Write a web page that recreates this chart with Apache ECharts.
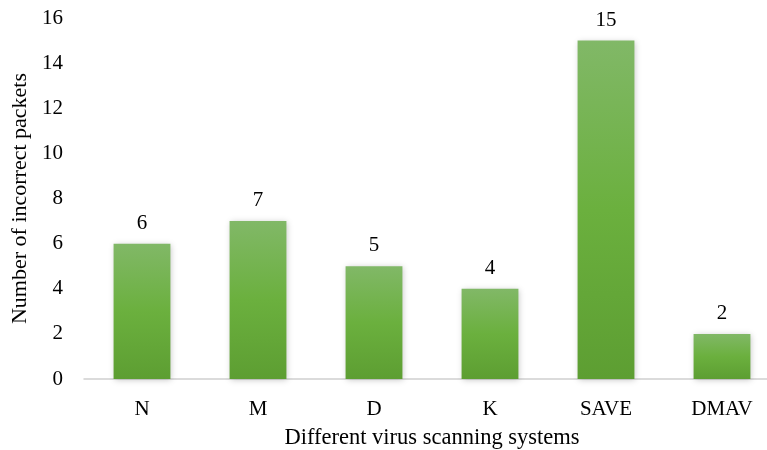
<!DOCTYPE html>
<html>
<head>
<meta charset="utf-8">
<script src="https://cdn.jsdelivr.net/npm/echarts@6/dist/echarts.min.js"></script>
<style>
  html, body { margin: 0; padding: 0; background: #fff; }
  #chart { width: 767px; height: 450px; }
</style>
</head>
<body>
<div id="chart"></div>
<script>
const categories = ['N', 'M', 'D', 'K', 'SAVE', 'DMAV'];
const incorrectPackets = [6, 7, 5, 4, 15, 2];
const yTicks = [0, 2, 4, 6, 8, 10, 12, 14, 16];

const serif = '"Liberation Serif", "Times New Roman", serif';
const chart = echarts.init(document.getElementById('chart'));

chart.setOption({
  animation: false,
  // plot area runs slightly past the right edge of the canvas
  grid: { left: 84, width: 696, top: 18, height: 361, containLabel: false, outerBoundsMode: 'none' },
  xAxis: {
    type: 'category',
    data: categories,
    name: 'Different virus scanning systems',
    nameLocation: 'middle',
    nameGap: 48,
    nameTextStyle: { fontFamily: serif, fontSize: 22.5, color: '#000' },
    axisLine: { lineStyle: { color: '#d0d0d0', width: 1.5 } },
    axisTick: { show: false },
    axisLabel: { fontFamily: serif, fontSize: 21, color: '#000', margin: 20 }
  },
  yAxis: {
    type: 'value',
    min: yTicks[0],
    max: yTicks[yTicks.length - 1],
    interval: 2,
    name: 'Number of incorrect packets',
    nameLocation: 'middle',
    nameGap: 52,
    nameTextStyle: { fontFamily: serif, fontSize: 22, color: '#000' },
    axisLine: { show: false },
    axisTick: { show: false },
    splitLine: { show: false },
    axisLabel: { fontFamily: serif, fontSize: 21, color: '#000', margin: 21 }
  },
  series: [{
    type: 'bar',
    data: incorrectPackets,
    barWidth: '49%',
    itemStyle: {
      color: new echarts.graphic.LinearGradient(0, 0, 0, 1, [
        { offset: 0, color: '#81b867' },
        { offset: 0.5, color: '#6bb03e' },
        { offset: 1, color: '#5d9e32' }
      ]),
      shadowColor: 'rgba(0,0,0,0.22)',
      shadowBlur: 6,
      shadowOffsetX: 1,
      shadowOffsetY: 1
    },
    label: {
      show: true,
      position: 'top',
      distance: 10,
      fontFamily: serif,
      fontSize: 21,
      color: '#000'
    }
  }]
});
</script>
</body>
</html>
